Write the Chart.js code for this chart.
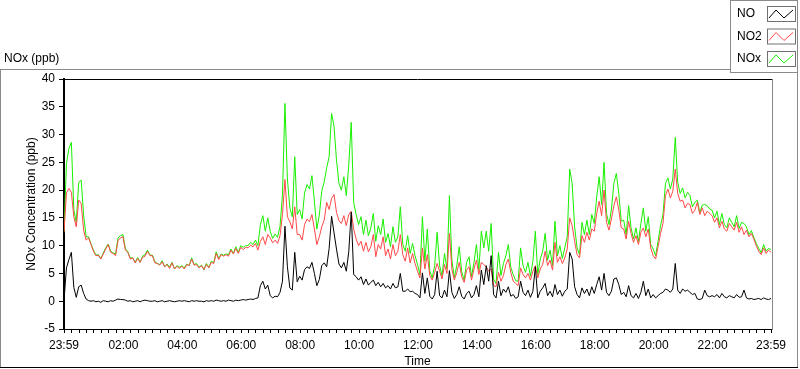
<!DOCTYPE html>
<html>
<head>
<meta charset="utf-8">
<title>NOx (ppb)</title>
<script src="https://cdn.jsdelivr.net/npm/chart.js@4.4.1/dist/chart.umd.min.js"></script>
<style>
  html, body { margin: 0; padding: 0; background: #fff; }
  #wrap { position: relative; width: 800px; height: 369px; }
</style>
</head>
<body>
<div id="wrap"><canvas id="noxChart" width="800" height="369"></canvas></div>
<script>
// one sample every 5 minutes, starting at 23:59 (one row = one hour)
const sampleStep = 5;

const noValues = [
  0.2, 6.0, 7.5, 8.8, 2.5, 0.7, 2.6, 2.9, 1.4, 0.4, 0.1, 0.0,
  0.1, -0.1, 0.0, -0.2, 0.1, 0.0, -0.1, 0.1, 0.0, 0.2, 0.4, 0.3,
  0.3, 0.2, 0.0, 0.1, -0.1, 0.0, 0.1, -0.1, 0.1, 0.2, 0.1, 0.0,
  0.0, 0.1, -0.1, 0.0, 0.1, -0.1, 0.0, 0.1, 0.0, -0.1, 0.0, 0.1,
  0.0, 0.1, 0.0, -0.1, 0.1, 0.0, 0.1, 0.0, 0.0, -0.1, 0.1, 0.0,
  0.1, 0.0, 0.2, 0.1, 0.0, 0.1, 0.0, 0.2, 0.1, 0.0, 0.2, 0.1,
  0.2, 0.3, 0.2, 0.3, 0.4, 0.3, 0.5, 0.6, 2.8, 3.6, 2.2, 2.9,
  1.0, 0.6, 0.9, 0.8, 1.6, 3.6, 13.5, 6.2, 2.4, 2.0, 8.8, 3.5,
  4.5, 3.8, 5.7, 6.2, 5.9, 7.0, 5.0, 2.8, 3.9, 6.4, 6.9, 6.2,
  9.5, 15.3, 12.3, 9.4, 6.7, 6.0, 7.0, 5.4, 8.9, 16.0, 4.8, 4.4,
  3.8, 4.4, 3.0, 4.0, 2.9, 3.4, 3.8, 2.8, 3.4, 2.6, 3.2, 2.4,
  2.8, 2.2, 3.2, 2.4, 2.6, 5.0, 1.8, 1.8, 2.2, 1.7, 1.8, 1.4,
  1.2, 0.6, 5.1, 1.4, 4.2, 0.9, 0.4, 1.2, 5.4, 1.0, 0.6, 2.0,
  0.8, 5.5, 1.6, 0.5, 1.2, 2.6, 0.9, 0.4, 1.4, 1.8, 0.6, 1.2,
  2.8, 0.8, 5.6, 3.0, 6.4, 3.6, 8.2, 1.2, 0.6, 3.6, 1.0, 2.2,
  1.6, 2.6, 0.9, 1.2, 0.5, 0.8, 3.6, 1.6, 1.0, 2.0, 0.7, 1.8,
  6.2, 0.6, 1.8, 2.4, 3.2, 1.0, 1.8, 0.8, 3.0, 1.2, 2.0, 0.9,
  1.8, 2.2, 8.8, 7.6, 2.6, 1.2, 0.6, 2.4, 1.4, 2.2, 1.0, 2.6,
  1.4, 3.0, 4.4, 2.0, 5.0, 1.6, 1.0, 1.8, 4.0, 4.2, 3.0, 1.2,
  1.6, 0.8, 2.8, 1.0, 0.6, 1.4, 0.5, 1.6, 3.6, 1.0, 2.2, 0.6,
  1.2, 0.6, 1.0, 1.4, 1.6, 2.2, 2.0, 1.6, 2.2, 6.8, 2.0, 1.4,
  2.2, 1.8, 2.0, 1.6, 1.2, 1.4, 0.4, 0.3, 0.5, 2.0, 1.0, 0.8,
  1.0, 0.8, 1.2, 0.6, 1.4, 0.8, 0.6, 1.0, 0.8, 0.6, 1.2, 0.7,
  0.8, 2.0, 0.6, 0.4, 0.5, 0.3, 0.4, 0.5, 0.3, 0.6, 0.4, 0.3,
  0.5
];

const no2Values = [
  12.4, 19.5, 20.3, 19.6, 15.2, 13.4, 18.2, 17.6, 12.8, 11.0, 11.4, 10.2,
  9.0, 8.2, 8.3, 7.6, 8.5, 9.4, 10.2, 8.8, 8.6, 8.2, 10.9, 11.4,
  11.6, 9.2, 8.8, 7.6, 7.8, 6.9, 7.7, 7.0, 7.9, 8.1, 9.0, 8.2,
  8.2, 6.9, 6.8, 6.5, 7.1, 6.2, 6.6, 5.9, 6.9, 5.8, 6.3, 5.9,
  6.3, 5.8, 6.6, 6.4, 7.6, 6.5, 6.6, 6.0, 6.4, 5.7, 6.6, 6.0,
  7.0, 6.8, 8.6, 7.5, 8.4, 8.1, 8.4, 8.1, 9.2, 8.5, 9.5, 8.6,
  9.7, 9.3, 9.7, 9.6, 10.1, 9.8, 10.4, 9.2, 10.8, 11.6, 10.2, 12.0,
  11.4, 10.5, 11.0, 10.4, 11.8, 15.6, 21.9, 15.2, 14.3, 13.0, 17.0, 12.0,
  12.0, 11.0, 13.8, 14.8, 14.3, 15.6, 13.0, 10.2, 11.6, 13.4, 14.6, 17.8,
  16.5, 18.5, 19.2, 16.0, 14.5, 14.0, 15.4, 13.6, 15.6, 16.2, 13.0, 11.2,
  10.0, 10.8, 9.0, 10.6, 8.9, 9.8, 12.0, 8.0, 10.2, 9.4, 11.6, 8.2,
  9.4, 7.6, 10.2, 8.2, 9.0, 12.0, 8.4, 7.2, 9.6, 6.9, 8.6, 6.8,
  5.4, 4.2, 9.6, 5.8, 8.4, 4.6, 3.8, 5.2, 6.8, 5.4, 4.0, 6.6,
  5.0, 12.2, 5.8, 3.8, 5.2, 7.0, 4.4, 3.4, 5.6, 6.2, 3.8, 5.8,
  7.4, 4.8, 7.0, 6.6, 6.2, 5.4, 5.8, 2.8, 2.6, 5.2, 3.6, 4.6,
  6.6, 7.6, 5.2, 3.6, 3.2, 2.8, 6.0, 4.8, 4.2, 5.0, 3.8, 5.4,
  6.4, 4.2, 5.8, 6.6, 9.0, 6.4, 7.4, 5.6, 10.6, 7.0, 8.0, 6.8,
  7.8, 9.4, 15.0, 13.6, 10.8, 8.4, 7.8, 11.8, 10.6, 12.4, 11.0, 13.0,
  12.6, 15.8, 18.0, 15.4, 20.0, 14.2, 12.8, 14.8, 17.2, 18.8, 16.4, 13.2,
  13.0, 11.2, 14.4, 12.2, 10.6, 11.8, 10.2, 12.4, 13.2, 11.6, 13.0, 9.6,
  8.2, 7.6, 9.8, 12.2, 14.0, 19.0, 20.2, 18.6, 19.8, 23.8, 19.4, 18.0,
  18.2, 16.8, 17.6, 17.4, 15.8, 16.4, 17.8, 15.6, 16.8, 15.4, 16.2, 15.8,
  15.4, 14.2, 15.0, 13.2, 14.4, 13.0, 12.6, 14.0, 13.4, 12.8, 14.2, 12.4,
  13.4, 12.0, 12.8, 11.6, 12.2, 11.2, 10.0, 9.0, 8.4, 9.6, 8.6, 9.2,
  8.8
];

const noxValues = [
  12.6, 24.8, 27.5, 28.6, 16.5, 14.2, 21.4, 21.8, 15.5, 11.6, 11.6, 10.3,
  9.2, 8.3, 8.4, 7.6, 8.7, 9.6, 10.3, 9.0, 8.7, 8.5, 11.4, 11.8,
  12.0, 9.5, 8.9, 7.8, 7.8, 7.0, 7.9, 7.0, 8.1, 8.4, 9.2, 8.3,
  8.3, 7.1, 6.8, 6.6, 7.3, 6.2, 6.7, 6.1, 7.0, 5.8, 6.4, 6.1,
  6.4, 6.0, 6.7, 6.4, 7.8, 6.6, 6.8, 6.1, 6.5, 5.7, 6.8, 6.1,
  7.2, 6.9, 8.9, 7.7, 8.5, 8.3, 8.5, 8.4, 9.4, 8.6, 9.8, 8.8,
  10.0, 9.7, 10.0, 10.0, 10.6, 10.2, 11.0, 10.0, 13.8, 15.4, 12.6, 15.0,
  12.6, 11.3, 12.1, 11.5, 13.5, 19.2, 35.6, 22.0, 16.8, 15.2, 26.0, 15.6,
  16.5, 14.8, 19.5, 21.0, 20.2, 22.6, 18.0, 13.0, 15.5, 19.8, 21.5, 24.0,
  26.0, 33.8, 31.5, 25.4, 21.2, 20.0, 22.4, 19.0, 24.5, 32.2, 17.8, 15.6,
  13.8, 15.2, 12.0, 14.6, 11.8, 13.2, 15.8, 10.8, 13.6, 12.0, 14.8, 10.6,
  12.2, 9.8, 13.4, 10.6, 11.6, 17.0, 10.2, 9.0, 11.8, 8.6, 10.4, 8.2,
  6.6, 4.8, 15.2, 7.2, 13.0, 5.5, 4.2, 6.4, 12.4, 6.4, 4.6, 8.6,
  5.8, 19.0, 7.4, 4.3, 6.4, 9.8, 5.3, 3.8, 7.0, 8.0, 4.4, 7.0,
  10.2, 5.6, 12.6, 9.6, 12.6, 9.0, 14.0, 4.0, 3.2, 8.8, 4.6, 6.8,
  8.2, 10.2, 6.1, 4.8, 3.7, 3.6, 9.6, 6.4, 5.2, 7.0, 4.5, 7.2,
  12.6, 4.8, 7.6, 9.0, 12.2, 7.4, 9.2, 6.4, 14.4, 8.2, 10.0, 7.7,
  9.6, 11.6, 23.8, 21.2, 13.4, 9.6, 8.4, 14.2, 12.0, 14.6, 12.0, 15.6,
  14.0, 18.8, 22.4, 17.4, 25.0, 15.8, 13.8, 16.6, 21.2, 23.0, 19.4, 14.4,
  14.6, 12.0, 17.2, 13.2, 11.2, 13.2, 10.7, 14.0, 16.8, 12.6, 15.2, 10.2,
  9.4, 8.2, 10.8, 13.6, 15.6, 21.2, 22.2, 20.2, 22.0, 29.5, 21.4, 19.4,
  20.4, 18.6, 19.6, 19.0, 17.0, 17.8, 18.2, 15.9, 17.3, 17.4, 17.2, 16.6,
  16.4, 15.0, 16.2, 13.8, 15.8, 13.8, 13.2, 15.0, 14.2, 13.4, 15.4, 13.1,
  14.2, 14.0, 13.4, 12.0, 12.7, 11.5, 10.4, 9.5, 8.7, 10.2, 9.0, 9.5,
  9.3
];

const seriesNames = ['NO', 'NO2', 'NOx'];
const seriesColors = ['#000000', '#ff4848', '#18f000'];

// minutes after 23:59 where the time labels sit
const tickMinutes = [0, 121, 241, 361, 481, 601, 721, 841, 961, 1081, 1201, 1321, 1440];
const tickLabels = ['23:59', '02:00', '04:00', '06:00', '08:00', '10:00', '12:00',
  '14:00', '16:00', '18:00', '20:00', '22:00', '23:59'];

const fontFamily = '"Liberation Sans", Arial, sans-serif';
Chart.defaults.font.family = fontFamily;
Chart.defaults.font.size = 12;
Chart.defaults.color = '#000';

function toPoints(values) {
    return values.map((v, i) => ({ x: i * sampleStep, y: v }));
}

// quarter-hour marks (00:00 is minute 1) plus both ends
function timeTicks() {
    const list = [0];
    for (let m = 1; m < 1440; m += 15) list.push(m);
    list.push(1440);
    return list.map(v => ({ value: v }));
}

const framePlugin = {
    id: 'frame',
    beforeDraw(chart) {
        const c = chart.ctx;
        c.save();
        c.fillStyle = '#fff';
        c.fillRect(0, 0, chart.width, chart.height);
        c.restore();
    },
    afterDraw(chart) {
        const c = chart.ctx;
        const area = chart.chartArea;
        c.save();
        c.lineWidth = 1;

        // plot box
        c.strokeStyle = '#000';
        c.beginPath();
        c.moveTo(area.left - 1, area.top + 0.5);
        c.lineTo(area.right + 1, area.top + 0.5);
        c.stroke();
        c.strokeStyle = '#8a8a8a';
        c.beginPath();
        c.moveTo(area.right + 1.5, area.top);
        c.lineTo(area.right + 1.5, area.bottom + 1);
        c.stroke();

        // outer panel
        c.strokeStyle = '#8a8a8a';
        c.beginPath();
        c.moveTo(0, 69.5);
        c.lineTo(730, 69.5);
        c.moveTo(0.5, 69);
        c.lineTo(0.5, 368);
        c.moveTo(797.5, 72);
        c.lineTo(797.5, 368);
        c.stroke();
        c.strokeStyle = '#000';
        c.beginPath();
        c.moveTo(0, 367.5);
        c.lineTo(798, 367.5);
        c.stroke();

        // panel title
        c.fillStyle = '#000';
        c.font = '12px ' + fontFamily;
        c.textBaseline = 'middle';
        c.textAlign = 'left';
        c.fillText('NOx (ppb)', 4, 59);

        // legend
        c.strokeStyle = '#8a8a8a';
        c.strokeRect(730.5, 0.5, 67, 72);
        seriesNames.forEach((name, i) => {
            const cy = 14 + i * 22.5;
            c.fillStyle = '#000';
            c.fillText(name, 737, cy);
            c.strokeStyle = '#707070';
            c.strokeRect(767.5, cy - 7.5, 28, 15);
            c.strokeStyle = seriesColors[i];
            c.beginPath();
            c.moveTo(769, cy + 4);
            c.lineTo(776, cy - 4);
            c.lineTo(784, cy + 4);
            c.lineTo(793, cy - 4);
            c.stroke();
        });
        c.restore();
    }
};

const ctx = document.getElementById('noxChart').getContext('2d');
const valueSets = [noValues, no2Values, noxValues];

new Chart(ctx, {
    type: 'line',
    data: {
        datasets: seriesNames.map((name, i) => ({
            label: name,
            data: toPoints(valueSets[i]),
            borderColor: seriesColors[i],
            borderWidth: 1,
            pointRadius: 0,
            tension: 0,
            fill: false
        }))
    },
    options: {
        responsive: false,
        animation: false,
        layout: { padding: { top: 79, right: 29, left: 0, bottom: 0 } },
        plugins: {
            legend: { display: false },
            tooltip: { enabled: false }
        },
        scales: {
            x: {
                type: 'linear',
                min: 0,
                max: 1440,
                afterBuildTicks: function (scale) { scale.ticks = timeTicks(); },
                afterFit: function (scale) { scale.height = 40; },
                ticks: {
                    autoSkip: false,
                    maxRotation: 0,
                    padding: 5,
                    callback: function (value) {
                        const k = tickMinutes.indexOf(value);
                        return k >= 0 ? tickLabels[k] : '';
                    }
                },
                grid: { drawOnChartArea: false, drawTicks: true, tickLength: 4, tickColor: '#000' },
                border: { display: true, color: '#000', width: 1 },
                title: { display: true, text: 'Time', padding: { top: 0, bottom: 0 } }
            },
            y: {
                min: -5,
                max: 40,
                afterFit: function (scale) { scale.width = 64; },
                ticks: { stepSize: 5, padding: 4 },
                grid: { drawOnChartArea: false, drawTicks: true, tickLength: 5, tickColor: '#000' },
                border: { display: true, color: '#000', width: 2 },
                title: { display: true, text: 'NOx Concentration (ppb)', padding: { top: 24, bottom: 0 } }
            }
        }
    },
    plugins: [framePlugin]
});
</script>
</body>
</html>
